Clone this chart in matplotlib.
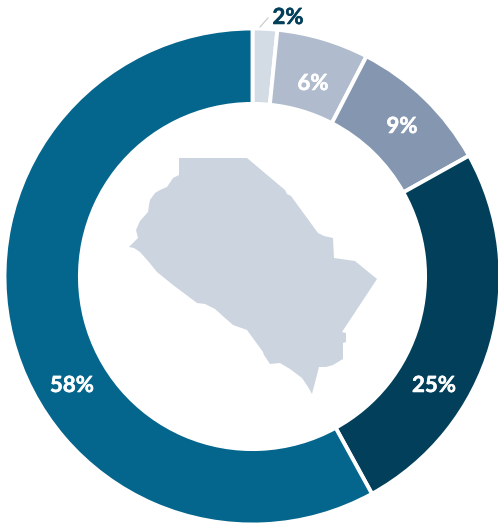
import matplotlib
matplotlib.use("Agg")
import matplotlib.pyplot as plt
from matplotlib.patches import Polygon
import matplotlib.patheffects as pe

labels = ["2%", "6%", "9%", "25%", "58%"]
values = [1.6, 6.0, 9.3, 25.1, 58.0]
colors = ["#D3DBE5", "#B0BCCD", "#8597B0", "#023F5A", "#05668D"]

# county silhouette outline, in pixels of the picture (x right, y down)
region_outline = [(179,158),(247,158),(285,190),(287,194),(291,196),(318,233),(324,236),(333,238),(334,258),
    (355,261),(377,279),(342,332),(346,333),(346,342),(343,343),(343,359),(333,365),(326,367),(319,367),(312,394),
    (308,387),(302,378),(290,369),(280,363),(270,364),(264,355),(263,352),(247,330),(233,325),(225,318),(215,309),(205,304),(197,303),(185,294),(173,285),
    (157,272),(148,261),(140,252),(134,248),(129,247),(133,243),(138,238),(136,230),(140,221),(148,212),(149,205),(150,200),(155,193),(160,190),(167,187),
    (173,178),(179,175)]

W, H = 498, 525
fig = plt.figure(figsize=(W / 100, H / 100), dpi=100)
ax = fig.add_axes([0, 0, 1, 1])

cx, cy, r = 252.5, H - 276.5, 248
wedges, _ = ax.pie(values, colors=colors, startangle=90, counterclock=False,
                   center=(cx, cy), radius=r,
                   wedgeprops=dict(width=75.4, edgecolor="white", linewidth=2.8))
ax.set_xlim(0, W)
ax.set_ylim(0, H)
ax.set_aspect("equal")
ax.axis("off")

ax.add_patch(Polygon([(x, H - y) for x, y in region_outline], closed=True,
                     facecolor="#CCD5DF", edgecolor="none"))

ax.plot([260, 268], [H - 27, H - 18], color="#C8C8C8", lw=0.8)

font = dict(family="Lato", fontweight="bold", fontsize=16, ha="center", va="center")
positions = [(288, 17.5), (313, 83.5), (402, 126.5), (434, 385.5), (72, 385.5)]
text_colors = ["#023F5A", "white", "white", "white", "white"]
for lab, (x, y), c in zip(labels, positions, text_colors):
    t = ax.text(x, H - y, lab, color=c, **font)
    t.set_path_effects([pe.withStroke(linewidth=0.4, foreground=c)])

fig.savefig("out.png", dpi=100, facecolor="white")
